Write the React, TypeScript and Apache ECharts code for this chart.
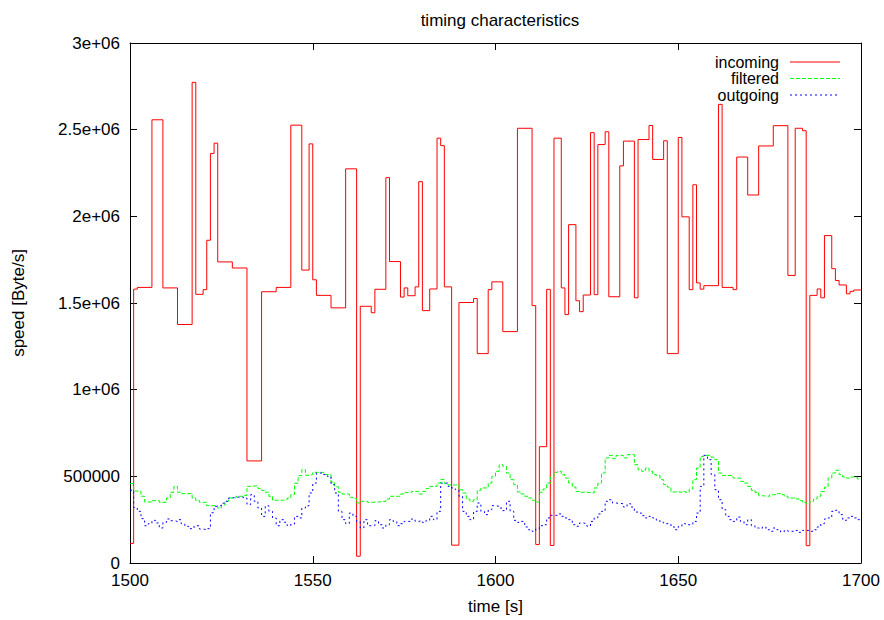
import React, { useEffect, useRef } from "react";
import * as echarts from "echarts";

// incoming speed: value holds from each time until the next one (gnuplot "steps")
const incomingTimes = [1500,1501,1502,1506,1509,1513,1517,1518,1520,1521,1522,1523,1524,1528,1532,1536,1540,1544,1547,1549,1550,1551,1555,1559,1562,1563,1566,1567,1570,1571,1574,1575,1576,1578,1579,1580,1582,1584,1585,1586,1588,1590,1594,1595,1598,1599,1602,1606,1610,1611,1612,1614,1615,1616,1618,1619,1620,1622,1623,1624,1626,1627,1628,1630,1631,1634,1635,1638,1639,1642,1643,1646,1647,1650,1651,1653,1654,1655,1656,1657,1661,1662,1665,1666,1669,1672,1676,1680,1682,1684,1685,1686,1688,1689,1690,1692,1693,1694,1696,1697,1698,1700];
const incomingValues = [113e3,1580e3,1590e3,2557e3,1587e3,1376e3,2773e3,1550e3,1577e3,1862e3,2363e3,2422e3,1737e3,1702e3,589e3,1565e3,1590e3,2526e3,1690e3,2418e3,1634e3,1544e3,1472e3,2274e3,39e3,1481e3,1444e3,1579e3,2223e3,1739e3,1534e3,1587e3,1542e3,1593e3,2200e3,1456e3,1581e3,2451e3,2408e3,1593e3,103e3,1503e3,1526e3,1208e3,1577e3,1622e3,1335e3,2508e3,1485e3,107e3,671e3,1579e3,101e3,2451e3,1587e3,1433e3,1952e3,1513e3,1450e3,1546e3,2483e3,1548e3,2414e3,2488e3,1536e3,2291e3,2434e3,1530e3,2443e3,2524e3,2328e3,2436e3,1208e3,2455e3,1997e3,1577e3,2182e3,1616e3,1580e3,1600e3,2646e3,1590e3,1577e3,2342e3,2123e3,2406e3,2523e3,1659e3,2508e3,2494e3,100e3,1544e3,1581e3,1530e3,1889e3,1698e3,1630e3,1604e3,1553e3,1567e3,1575e3,1575e3];

const filteredTimes = [1500,1501,1503,1504,1506,1508,1510,1511,1512,1513,1514,1517,1518,1519,1521,1524,1525,1526,1527,1529,1531,1532,1533,1535,1536,1537,1538,1539,1542,1543,1544,1545,1546,1547,1548,1549,1550,1553,1555,1556,1557,1558,1560,1561,1562,1563,1565,1566,1568,1570,1571,1574,1575,1577,1579,1580,1581,1582,1584,1585,1586,1587,1589,1590,1591,1592,1593,1594,1595,1596,1598,1599,1600,1601,1602,1603,1604,1605,1606,1607,1608,1609,1610,1611,1612,1613,1614,1615,1616,1617,1618,1619,1620,1621,1622,1623,1625,1627,1628,1629,1630,1631,1632,1633,1635,1636,1638,1639,1640,1641,1642,1643,1644,1645,1646,1647,1648,1650,1651,1652,1653,1654,1655,1656,1657,1659,1660,1661,1662,1665,1667,1668,1669,1670,1671,1672,1673,1675,1677,1678,1679,1680,1682,1683,1684,1685,1686,1687,1688,1689,1690,1691,1692,1693,1694,1695,1696,1697,1699,1700];
const filteredValues = [458e3,415e3,385e3,352e3,360e3,350e3,375e3,408e3,442e3,408e3,400e3,375e3,360e3,350e3,331e3,317e3,335e3,356e3,375e3,385e3,390e3,442e3,446e3,430e3,419e3,408e3,385e3,362e3,365e3,375e3,395e3,460e3,504e3,538e3,506e3,510e3,523e3,510e3,467e3,440e3,408e3,398e3,379e3,373e3,346e3,356e3,350e3,352e3,356e3,369e3,385e3,398e3,406e3,413e3,398e3,413e3,429e3,442e3,461e3,481e3,458e3,450e3,453e3,423e3,404e3,369e3,356e3,365e3,419e3,433e3,461e3,500e3,529e3,567e3,558e3,519e3,481e3,452e3,410e3,398e3,385e3,375e3,362e3,352e3,408e3,427e3,461e3,496e3,523e3,529e3,510e3,490e3,461e3,438e3,413e3,408e3,404e3,433e3,461e3,519e3,606e3,621e3,602e3,621e3,606e3,625e3,567e3,538e3,529e3,548e3,529e3,510e3,504e3,481e3,452e3,438e3,410e3,408e3,413e3,408e3,427e3,481e3,548e3,615e3,621e3,611e3,596e3,519e3,505e3,490e3,471e3,461e3,442e3,419e3,408e3,388e3,385e3,394e3,400e3,394e3,385e3,375e3,370e3,360e3,350e3,342e3,356e3,369e3,385e3,413e3,438e3,490e3,519e3,535e3,510e3,496e3,490e3,496e3,485e3,485e3];

const outgoingTimes = [1500,1501,1502,1503,1504,1505,1506,1507,1508,1509,1510,1511,1512,1513,1514,1515,1516,1517,1518,1519,1520,1521,1522,1523,1524,1525,1526,1527,1528,1529,1531,1532,1533,1534,1535,1536,1537,1538,1539,1540,1541,1542,1543,1544,1545,1546,1547,1548,1549,1550,1551,1553,1554,1555,1556,1557,1558,1559,1560,1561,1562,1563,1564,1565,1566,1567,1568,1569,1570,1571,1572,1573,1574,1575,1577,1578,1579,1580,1581,1582,1583,1584,1585,1587,1588,1589,1590,1591,1592,1593,1594,1595,1596,1597,1598,1599,1600,1601,1602,1603,1604,1605,1606,1607,1608,1609,1610,1611,1612,1613,1614,1615,1617,1618,1619,1620,1621,1622,1623,1624,1625,1626,1627,1628,1629,1630,1631,1632,1633,1635,1636,1637,1638,1639,1640,1641,1642,1643,1644,1645,1646,1648,1649,1650,1651,1652,1654,1655,1656,1657,1658,1659,1660,1661,1662,1663,1664,1665,1666,1667,1668,1669,1670,1671,1672,1673,1674,1675,1676,1677,1678,1679,1680,1682,1683,1684,1686,1687,1688,1689,1690,1691,1692,1693,1694,1695,1696,1697,1698,1699,1700];
const outgoingValues = [420e3,320e3,298e3,256e3,215e3,227e3,246e3,231e3,202e3,235e3,254e3,244e3,240e3,250e3,227e3,212e3,198e3,208e3,215e3,196e3,192e3,198e3,290e3,327e3,331e3,345e3,356e3,375e3,379e3,381e3,375e3,337e3,394e3,356e3,317e3,269e3,330e3,298e3,260e3,215e3,250e3,235e3,215e3,225e3,269e3,260e3,317e3,330e3,404e3,461e3,519e3,510e3,500e3,452e3,404e3,298e3,250e3,227e3,288e3,269e3,240e3,202e3,250e3,215e3,215e3,244e3,221e3,202e3,221e3,250e3,240e3,215e3,227e3,240e3,254e3,240e3,244e3,234e3,246e3,269e3,250e3,298e3,461e3,442e3,433e3,423e3,385e3,298e3,269e3,250e3,298e3,346e3,298e3,279e3,308e3,331e3,327e3,317e3,302e3,356e3,298e3,246e3,235e3,240e3,208e3,192e3,183e3,196e3,215e3,221e3,260e3,275e3,283e3,269e3,260e3,250e3,221e3,212e3,231e3,227e3,212e3,240e3,260e3,283e3,298e3,356e3,365e3,346e3,342e3,323e3,342e3,323e3,294e3,288e3,273e3,260e3,269e3,260e3,246e3,235e3,227e3,208e3,192e3,210e3,227e3,221e3,240e3,288e3,442e3,621e3,596e3,510e3,423e3,365e3,308e3,269e3,250e3,240e3,265e3,240e3,221e3,250e3,215e3,202e3,198e3,208e3,192e3,183e3,202e3,192e3,179e3,188e3,183e3,188e3,177e3,188e3,183e3,192e3,208e3,227e3,254e3,260e3,298e3,304e3,279e3,246e3,260e3,269e3,260e3,250e3,240e3];

const seriesNames = ["incoming", "filtered", "outgoing"];
const seriesColors = ["#ff0000", "#00ff00", "#0000ff"];
const yTickLabels = ["0", "500000", "1e+06", "1.5e+06", "2e+06", "2.5e+06", "3e+06"];

const FONT = "'Liberation Sans', Arial, Helvetica, sans-serif";
const FS = 17;
const LEGEND_FS = 16;

function pairs(t: number[], v: number[]) {
  return t.map((x, i) => [x, v[i]]);
}

export default function App() {
  const ref = useRef<HTMLDivElement>(null);
  useEffect(() => {
    if (!ref.current) return;
    const chart = echarts.init(ref.current, null, { renderer: "svg" });
    const axisLine = { show: true, onZero: false, lineStyle: { color: "#000", width: 1 } };
    const tick = { show: true, inside: true, length: 7, lineStyle: { color: "#000", width: 1 } };
    const dashes: any[] = ["solid", [4, 2], [2, 3]];
    const legendY = [62, 78.5, 95];
    const graphic: any[] = [];
    seriesNames.forEach((name, i) => {
      graphic.push({
        type: "text",
        x: 779,
        y: legendY[i],
        style: {
          text: name,
          fill: "#000",
          font: `${LEGEND_FS}px ${FONT}`,
          textAlign: "right",
          textVerticalAlign: "middle",
        },
      });
      graphic.push({
        type: "line",
        shape: { x1: 790, y1: legendY[i], x2: 840, y2: legendY[i] },
        style: { stroke: seriesColors[i], lineWidth: 1, lineDash: i === 0 ? null : dashes[i] },
      });
    });
    const option: any = {
      animation: false,
      backgroundColor: "#fff",
      textStyle: { fontFamily: FONT },
      title: {
        text: "timing characteristics",
        left: 495,
        top: 7,
        textAlign: "center",
        textStyle: { fontFamily: FONT, fontSize: FS, fontWeight: "normal", color: "#000" },
      },
      grid: { left: 130, top: 43, width: 731, height: 520, containLabel: false },
      xAxis: [
        {
          type: "value",
          min: 1500,
          max: 1700,
          interval: 50,
          position: "bottom",
          name: "time [s]",
          nameLocation: "middle",
          nameGap: 35,
          nameTextStyle: { fontFamily: FONT, fontSize: FS, color: "#000" },
          axisLine,
          axisTick: tick,
          splitLine: { show: false },
          axisLabel: { color: "#000", fontFamily: FONT, fontSize: FS, margin: 9, formatter: (v: number) => String(v) },
        },
        {
          type: "value",
          min: 1500,
          max: 1700,
          interval: 50,
          position: "top",
          axisLine,
          axisTick: tick,
          splitLine: { show: false },
          axisLabel: { show: false },
        },
      ],
      yAxis: [
        {
          type: "value",
          min: 0,
          max: 3e6,
          interval: 5e5,
          position: "left",
          name: "speed [Byte/s]",
          nameLocation: "middle",
          nameGap: 103,
          nameRotate: 90,
          nameTextStyle: { fontFamily: FONT, fontSize: FS, color: "#000" },
          axisLine,
          axisTick: tick,
          splitLine: { show: false },
          axisLabel: {
            color: "#000",
            fontFamily: FONT,
            fontSize: FS,
            margin: 10,
            formatter: (v: number) => yTickLabels[Math.round(v / 5e5)] ?? String(v),
          },
        },
        {
          type: "value",
          min: 0,
          max: 3e6,
          interval: 5e5,
          position: "right",
          axisLine,
          axisTick: tick,
          splitLine: { show: false },
          axisLabel: { show: false },
        },
      ],
      series: [
        { t: incomingTimes, v: incomingValues },
        { t: filteredTimes, v: filteredValues },
        { t: outgoingTimes, v: outgoingValues },
      ].map((s, i) => ({
        name: seriesNames[i],
        type: "line",
        step: "end",
        xAxisIndex: 0,
        yAxisIndex: 0,
        data: pairs(s.t, s.v),
        showSymbol: false,
        symbol: "none",
        lineStyle: { color: seriesColors[i], width: 1, type: dashes[i] },
        itemStyle: { color: seriesColors[i] },
        z: 2 + i,
      })),
      graphic,
    };
    chart.setOption(option);
    return () => chart.dispose();
  }, []);
  return (
    <div
      ref={ref}
      style={{ position: "fixed", left: 0, top: 0, width: 884, height: 620, background: "#fff" }}
    />
  );
}
